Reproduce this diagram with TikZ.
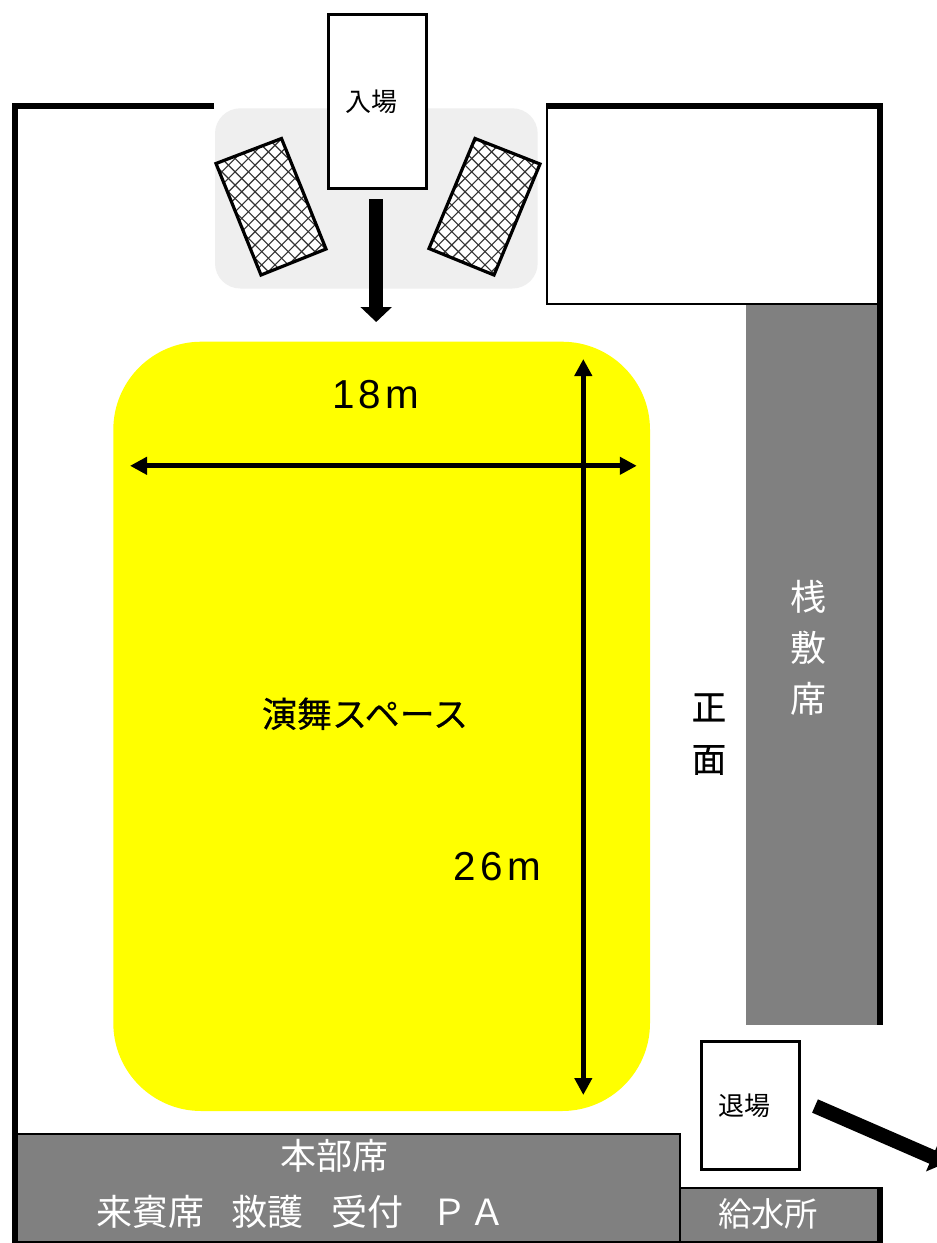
\documentclass[tikz,border=0pt]{standalone}
\usepackage{fontspec}
\setmainfont{Noto Sans CJK JP}
\newfontfamily\jpheavy[FakeBold=0.35]{Noto Sans CJK JP}
\newfontfamily\latinlabel[LetterSpace=11]{Liberation Sans}
\usetikzlibrary{arrows.meta}
\definecolor{seatgray}{RGB}{128,128,128}
\definecolor{entrygray}{RGB}{239,239,239}
\definecolor{stageyellow}{RGB}{255,255,0}
\tikzset{
  wall/.style={line width=4.3pt,draw=black,miter limit=10},
  room/.style={line width=2.25pt,draw=black,fill=white},
  thinrule/.style={line width=1.5pt,draw=black},
  hatchrect/.style={line width=2.4pt,draw=black,line join=miter},
  hatchline/.style={line width=.85pt,draw=black!80},
  fatarrow/.style={line width=10.9pt,draw=black,-{Triangle[length=11.25pt,width=23pt]}},
  dimarrow/.style={line width=3.9pt,draw=black,{Triangle[length=12.75pt,width=12.75pt]}-{Triangle[length=12.75pt,width=12.75pt]}},
  lbl/.style={inner sep=0pt,outer sep=0pt,align=center,text height=.88em,text depth=.12em},
  dimlbl/.style={inner sep=0pt,outer sep=0pt,anchor=base west,font=\latinlabel\fontsize{30.3}{34}\selectfont},
}
\newcommand{\pxfont}[1]{\fontsize{#1}{#1}\selectfont}
\begin{document}
\begin{tikzpicture}[x=0.75pt,y=-0.75pt]
\path[use as bounding box] (0,0) rectangle (937,1243);
\clip (0,0) rectangle (937,1243);
\fill[white] (0,0) rectangle (937,1243);

% entrance area
\fill[entrygray,rounded corners=19pt] (215,108.3) rectangle (537.7,288.5);

% hatched screens
\begin{scope}
  \clip (216,163.5) -- (281.5,138.5) -- (326,249) -- (261,275) -- cycle;
  \fill[white] (200,120) rectangle (340,290);
  \foreach \k in {-8,...,24} {
    \draw[hatchline] (150+\k*13.3,100) -- (350+\k*13.3,300);
    \draw[hatchline] (400-\k*13.3,100) -- (200-\k*13.3,300);
  }
\end{scope}
\draw[hatchrect] (216,163.5) -- (281.5,138.5) -- (326,249) -- (261,275) -- cycle;
\begin{scope}
  \clip (475,138.5) -- (540,164) -- (494,275) -- (429,248.5) -- cycle;
  \fill[white] (415,120) rectangle (550,290);
  \foreach \k in {-8,...,24} {
    \draw[hatchline] (360+\k*13.3,100) -- (560+\k*13.3,300);
    \draw[hatchline] (610-\k*13.3,100) -- (410-\k*13.3,300);
  }
\end{scope}
\draw[hatchrect] (475,138.5) -- (540,164) -- (494,275) -- (429,248.5) -- cycle;

% entrance box
\draw[room] (328.8,14.6) rectangle (426.6,188.8);

% entrance arrow
\coordinate (inA) at (376.2,199);
\coordinate (inB) at (376.2,322);
\draw[fatarrow] (inA) -- (inB);

% performance space
\fill[stageyellow,rounded corners=66pt] (113.3,341.7) rectangle (650,1111);

% white reserved room
\draw[thinrule] (547,106) -- (547,304) -- (878,304);

% seats, right
\fill[seatgray] (746,305) rectangle (877,1025);

% headquarters + water station
\fill[seatgray] (17,1134) rectangle (680,1241.5);
\fill[seatgray] (680,1188) rectangle (877,1241.5);
\draw[thinrule] (17,1134) -- (681,1134);
\draw[thinrule] (680,1134) -- (680,1242);
\draw[thinrule] (680,1187.7) -- (880,1187.7);
\draw[line width=.9pt] (17,1242) -- (877,1242);

% walls
\draw[wall] (214,106.1) -- (15,106.1) -- (15,1250);
\draw[wall] (546,106.1) -- (880,106.1) -- (880,1025);
\draw[wall] (880,1187) -- (880,1242.7);

% exit box
\draw[room] (701.6,1041.6) rectangle (799.2,1169.4);

% exit arrow
\coordinate (outA) at (815,1106);
\coordinate (outB) at (946,1163);
\draw[fatarrow] (outA) -- (outB);

% dimensions
\coordinate (hA) at (130,465.8);
\coordinate (hB) at (636.8,465.8);
\coordinate (vA) at (583.3,359);
\coordinate (vB) at (583.3,1095);
\draw[dimarrow] (hA) -- (hB);
\draw[dimarrow] (vA) -- (vB);

% labels
\node[dimlbl] (wLabel) at (332,408) {18m};
\node[dimlbl] (hLabel) at (453.5,880) {26m};
\node[lbl,font=\jpheavy\pxfont{26.3}] (space) at (365,722) {演舞スペース};
\node[lbl,font=\pxfont{19.5}] (entry) at (371,106) {入場};
\node[lbl,font=\pxfont{19.5}] (exit) at (744,1110) {退場};
\node[lbl,font=\pxfont{27},text=white] (tatami1) at (808,605) {桟};
\node[lbl,font=\pxfont{27},text=white] (tatami2) at (808,656) {敷};
\node[lbl,font=\pxfont{27},text=white] (tatami3) at (808,707) {席};
\node[lbl,font=\jpheavy\pxfont{26},text=black] (front1) at (709,715) {正};
\node[lbl,font=\jpheavy\pxfont{26},text=black] (front2) at (709,767) {面};
\node[lbl,font=\pxfont{27},text=white] (hq) at (334.5,1164) {本部席};
\node[lbl,font=\pxfont{27},text=white,anchor=west] (desks) at (96,1220) {来賓席\hspace{21pt}救護\hspace{21pt}受付\hspace{21pt}Ｐ\hspace{1.5pt}Ａ};
\node[lbl,font=\pxfont{25},text=white] (water) at (768,1221) {給水所};
\end{tikzpicture}
\end{document}
